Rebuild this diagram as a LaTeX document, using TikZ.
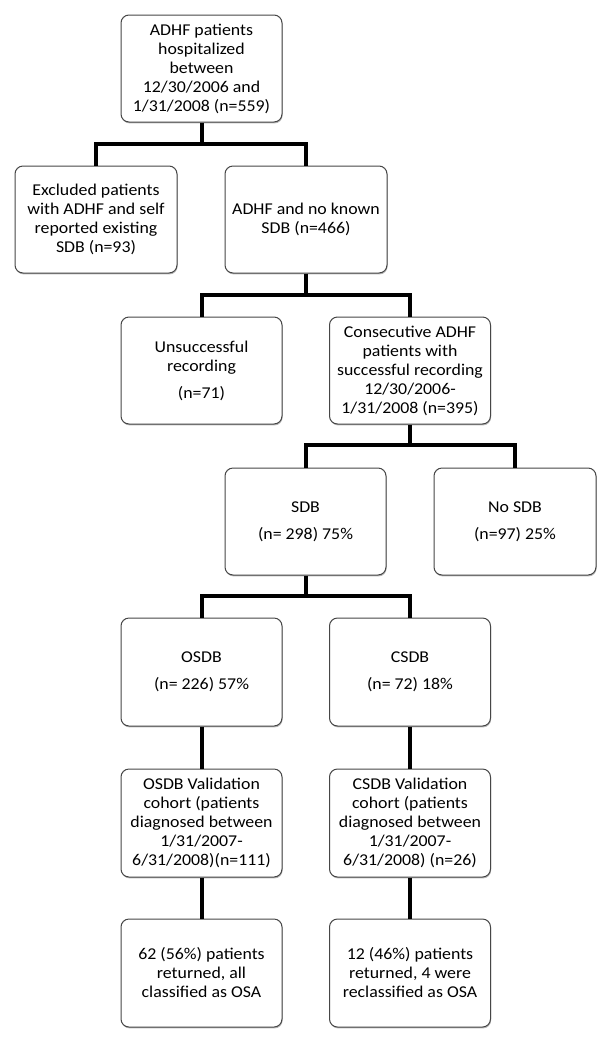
\documentclass[tikz,border=0pt]{standalone}
\usepackage{fontspec}
\setmainfont{Carlito}[FakeStretch=1.08]
\usetikzlibrary{shadows}
\tikzset{
  box/.style={draw=gray!55!black, line width=1pt, rounded corners=8pt, fill=white,
    minimum width=161pt, minimum height=107pt, inner sep=0pt, align=center,
    font=\fontsize{16.5}{19}\selectfont,
    drop shadow={shadow xshift=0.6pt, shadow yshift=-1.4pt, fill=gray!80, opacity=0.7}},
  conn/.style={draw=black, line width=4pt, line join=miter, line cap=butt}
}
\begin{document}
\begin{tikzpicture}[x=1pt,y=-1pt]
\useasboundingbox (0,0) rectangle (609,1045);
\node[box] (top) at (201.5,68.5) {ADHF patients\\hospitalized\\between\\12/30/2006 and\\1/31/2008 (n=559)};
\node[box, minimum width=162pt] (excl) at (96,219.5) {Excluded patients\\with ADHF and self\\reported existing\\SDB (n=93)};
\node[box, minimum width=162pt] (nok) at (306,219.5) {ADHF and no known\\SDB (n=466)};
\node[box] (unsucc) at (201.5,370.5) {Unsuccessful\\recording\\[8pt](n=71)};
\node[box] (consec) at (410,370.5) {Consecutive ADHF\\patients with\\successful recording\\12/30/2006-\\1/31/2008 (n=395)};
\node[box] (sdb) at (305.5,521.5) {SDB\\[8pt](n= 298) 75\%};
\node[box, minimum width=162pt] (nosdb) at (515,521.5) {No SDB\\[8pt](n=97) 25\%};
\node[box, minimum height=108pt] (osdb) at (201.5,672) {OSDB\\[8pt](n= 226) 57\%};
\node[box, minimum height=108pt] (csdb) at (410,672) {CSDB\\[8pt](n= 72) 18\%};
\node[box, minimum height=108pt] (oval) at (201.5,823) {OSDB Validation\\cohort (patients\\diagnosed between\\1/31/2007-\\6/31/2008)(n=111)};
\node[box, minimum height=108pt] (cval) at (410,823) {CSDB Validation\\cohort (patients\\diagnosed between\\1/31/2007-\\6/31/2008) (n=26)};
\node[box, minimum height=108pt] (oret) at (201.5,973) {62 (56\%) patients\\returned, all\\classified as OSA};
\node[box, minimum height=108pt] (cret) at (410,973) {12 (46\%) patients\\returned, 4 were\\reclassified as OSA};
\coordinate (j1) at (201.5,144);
\coordinate (j2) at (306,295);
\coordinate (j3) at (410,445);
\coordinate (j4) at (305.5,596);
\draw[conn] (top.south) -- (j1);
\draw[conn] (excl.north) |- (j1) -| (nok.north);
\draw[conn] (nok.south) -- (j2);
\draw[conn] (unsucc.north) |- (j2) -| (consec.north);
\draw[conn] (consec.south) -- (j3);
\draw[conn] (sdb.north) |- (j3) -| (nosdb.north);
\draw[conn] (sdb.south) -- (j4);
\draw[conn] (osdb.north) |- (j4) -| (csdb.north);
\draw[conn] (osdb.south) -- (oval.north);
\draw[conn] (csdb.south) -- (cval.north);
\draw[conn] (oval.south) -- (oret.north);
\draw[conn] (cval.south) -- (cret.north);
\end{tikzpicture}
\end{document}
